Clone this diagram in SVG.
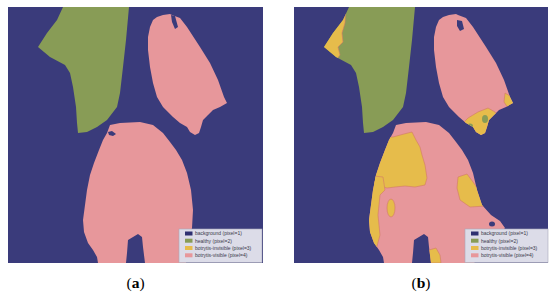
<svg xmlns="http://www.w3.org/2000/svg" width="550" height="296" viewBox="0 0 550 296">
<style>
.bg{fill:#3a3b7b}
.green{fill:#889c56}
.pink{fill:#e7979b}
.yel{fill:#e6bc4b;stroke:#d27a66;stroke-width:0.6}
.hole{fill:#3a3b7b}
.lbox{fill:#dcdce8;stroke:#a8a8b8;stroke-width:0.6}
.lt{font-family:"Liberation Sans",Arial,sans-serif;font-size:5px;fill:#3a3a4a}
.cap{font-family:"Liberation Serif","Times New Roman",serif;font-size:15.5px;fill:#000}
</style>
<defs>
<path id="greenShape" d="M63,7 L57,20 L47,33 L38,47 L50,57 L65,65 L70,73 L73,87 L76,107 L77,123 L78,133 L87,132 L97,127 L107,120 L117,107 L120,93 L123,67 L126,40 L129,7 Z"/>
<path id="pinkTop" d="M157,17 L163,15 L170,14 L172,15 L180,18 L187,27 L200,47 L210,63 L218,80 L224,97 L227,103 L220,107 L213,110 L208,115 L203,120 L201,127 L199,133 L195,135 L190,132 L187,127 L180,123 L173,117 L163,107 L157,97 L153,83 L150,67 L148,50 L148,37 L150,27 L153,20 Z"/>
<path id="pinkBotA" d="M103,140 L107,133 L110,125 L120,123 L140,122 L153,125 L163,133 L170,142 L176,150 L182,160 L187,173 L191,190 L193,210 L192,228 L188,245 L186,263 L145,263 L143,247 L142,237 L138,234 L133,237 L128,240 L127,253 L126,263 L98,263 L97,257 L93,250 L88,243 L84,232 L83,220 L85,205 L87,190 L90,175 L94,163 L99,150 Z"/>
<path id="pinkBotB" d="M103,140 L107,133 L110,125 L120,123 L140,122 L153,125 L163,133 L170,142 L176,150 L182,160 L187,173 L191,190 L196,205 L205,215 L214,221 L219,228 L205,245 L188,263 L145,263 L143,247 L142,237 L138,234 L133,237 L128,240 L127,253 L126,263 L98,263 L97,257 L93,250 L88,243 L84,232 L83,220 L85,205 L87,190 L90,175 L94,163 L99,150 Z"/>
<clipPath id="clipGreen" clipPathUnits="userSpaceOnUse"><use href="#greenShape"/></clipPath>
<clipPath id="clipPinkTop" clipPathUnits="userSpaceOnUse"><use href="#pinkTop"/></clipPath>
<clipPath id="clipPinkBotB" clipPathUnits="userSpaceOnUse"><use href="#pinkBotB"/></clipPath>
</defs>

<g id="panel-a">
<rect class="bg" x="8" y="7" width="255" height="256"/>
<use href="#greenShape" class="green"/>
<use href="#pinkTop" class="pink"/>
<path class="hole" d="M171,15 L175,16 L178,27 L175,29 L172,22 Z"/>
<use href="#pinkBotA" class="pink"/>
<path class="hole" d="M108,132 L112,131 L116,134 L113,136 L109,135 Z"/>
<g id="legend-a">
<rect class="lbox" x="179" y="229" width="83" height="33.5"/>
<rect x="185" y="231.5" width="7.5" height="4" fill="#2e3070"/>
<rect x="185" y="238.7" width="7.5" height="4" fill="#889c56"/>
<rect x="185" y="246" width="7.5" height="4" fill="#e6bc4b"/>
<rect x="185" y="253.3" width="7.5" height="4" fill="#e7979b"/>
<text class="lt" x="195" y="235.3">background (pixel=1)</text>
<text class="lt" x="195" y="242.5">healthy (pixel=2)</text>
<text class="lt" x="195" y="249.8">botrytis-invisible (pixel=3)</text>
<text class="lt" x="195" y="257.1">botrytis-visible (pixel=4)</text>
</g>
</g>

<g id="panel-b">
<rect class="bg" x="294" y="7" width="254" height="256"/>
<g transform="translate(286,0)">
<use href="#greenShape" class="green"/>
<g clip-path="url(#clipGreen)">
<path class="yel" d="M60,5 L59,23 L56,33 L57,42 L52,47 L54,55 L51,59 L45,62 L30,50 L50,5 Z"/>
</g>
<use href="#pinkTop" class="pink"/>
<g clip-path="url(#clipPinkTop)">
<path class="yel" d="M175,125 L182,118 L192,112 L202,108 L209,112 L215,120 L205,140 L180,140 Z"/>
<path class="yel" d="M219,93 L224,96 L230,104 L222,108 L218,102 Z"/>
<ellipse class="green" cx="184" cy="126" rx="3" ry="2.5"/>
<ellipse class="green" cx="199" cy="119" rx="3" ry="4"/>
</g>
<path class="hole" d="M171,20 L176,21 L178,29 L174,31 L171,26 Z"/>
<use href="#pinkBotB" class="pink"/>
<g clip-path="url(#clipPinkBotB)">
<path class="yel" d="M95,140 L100,137 L107,137 L118,134 L126,132 L130,140 L134,147 L136,155 L139,165 L141,178 L139,185 L129,187 L119,186 L109,187 L101,188 L88,185 L88,165 Z"/>
<path class="yel" d="M79,175 L97,177 L99,190 L94,195 L92,215 L94,235 L90,250 L86,258 L76,258 L76,175 Z"/>
<ellipse class="yel" cx="105" cy="208" rx="4" ry="9"/>
<path class="yel" d="M172,177 L181,174 L187,182 L196,195 L200,206 L184,207 L174,200 L171,188 Z"/>
<path class="yel" d="M143,250 L150,248 L154,255 L155,263 L144,263 Z"/>
</g>
<ellipse class="hole" cx="206" cy="224" rx="3" ry="2.5"/>
</g>
<g id="legend-b">
<rect class="lbox" x="465" y="229" width="83" height="33.5"/>
<rect x="471" y="231.5" width="7.5" height="4" fill="#2e3070"/>
<rect x="471" y="238.7" width="7.5" height="4" fill="#889c56"/>
<rect x="471" y="246" width="7.5" height="4" fill="#e6bc4b"/>
<rect x="471" y="253.3" width="7.5" height="4" fill="#e7979b"/>
<text class="lt" x="481" y="235.3">background (pixel=1)</text>
<text class="lt" x="481" y="242.5">healthy (pixel=2)</text>
<text class="lt" x="481" y="249.8">botrytis-invisible (pixel=3)</text>
<text class="lt" x="481" y="257.1">botrytis-visible (pixel=4)</text>
</g>
</g>

<text class="cap" x="135.5" y="287.5" text-anchor="middle">(<tspan font-weight="bold">a</tspan>)</text>
<text class="cap" x="421" y="287.5" text-anchor="middle">(<tspan font-weight="bold">b</tspan>)</text>
</svg>
